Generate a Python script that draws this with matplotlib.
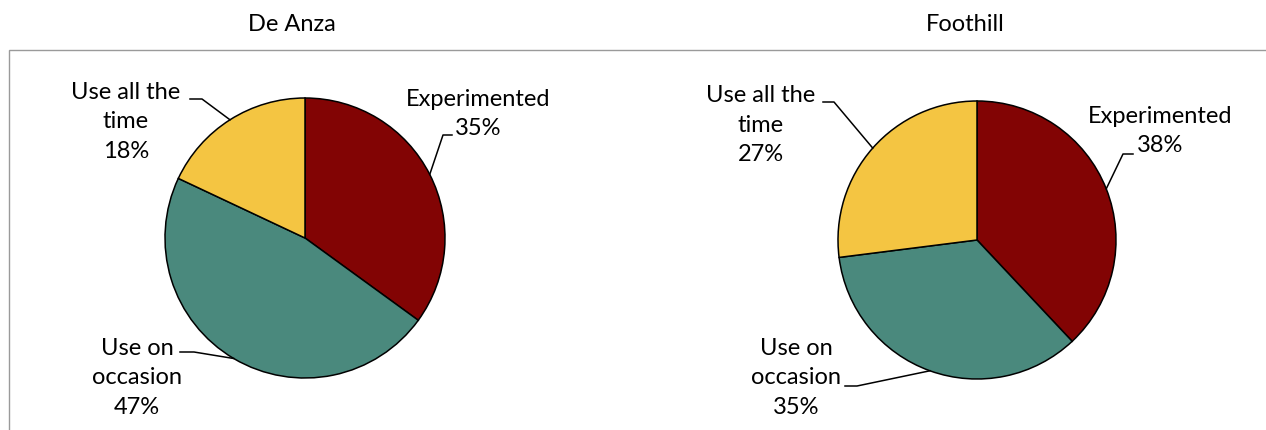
import numpy as np
import matplotlib
matplotlib.use("Agg")
import matplotlib.pyplot as plt
from matplotlib.patches import Rectangle

# Survey answers per campus
categories = ["Experimented", "Use on occasion", "Use all the time"]
label_text = ["Experimented", "Use on\noccasion", "Use all the\ntime"]
de_anza = [35, 47, 18]
foothill = [38, 35, 27]
colors = ["#820404", "#4A897D", "#F4C542"]

W, H = 1266, 431
plt.rcParams["font.family"] = ["Lato", "DejaVu Sans"]
FS = 17

fig = plt.figure(figsize=(W / 100, H / 100), dpi=100)
ax = fig.add_axes([0, 0, 1, 1])


def py(y):
    """Convert a top-down pixel row to the axes' upward coordinate."""
    return H - y


# Light gray chart border (left and top edges visible)
ax.add_patch(Rectangle((9, -20), W + 50, py(51) + 20, fill=False,
                       edgecolor="#9a9a9a", linewidth=1.0, zorder=0))

pies = [
    dict(title="De Anza", values=de_anza, center=(305, py(239)), radius=140,
         title_pos=(292, py(24)),
         labels=[((478, py(114)), [(452, 136), (443, 136)]),
                 ((137, py(378)), [(180, 353), (194, 353)]),
                 ((126, py(122)), [(190, 100), (202, 100)])]),
    dict(title="Foothill", values=foothill, center=(977, py(241)), radius=139,
         title_pos=(965, py(24)),
         labels=[((1160, py(131)), [(1133, 155), (1123, 155)]),
                 ((796, py(378)), [(845, 387), (857, 387)]),
                 ((761, py(125)), [(823, 103), (834, 103)])]),
]

for p in pies:
    vals = p["values"]
    wedges, _ = ax.pie(vals, colors=colors, startangle=90, counterclock=False,
                       center=p["center"], radius=p["radius"], frame=True,
                       wedgeprops=dict(edgecolor="black", linewidth=1.1))
    ax.text(*p["title_pos"], p["title"], ha="center", va="center",
            fontsize=FS, color="black")
    for w, v, txt, (tpos, leader) in zip(wedges, vals, label_text, p["labels"]):
        ax.text(*tpos, f"{txt}\n{v}%", ha="center", va="center",
                fontsize=FS, color="black", linespacing=1.52)
        mid = np.deg2rad((w.theta1 + w.theta2) / 2)
        cx, cy = p["center"]
        ex = cx + p["radius"] * np.cos(mid)
        ey = cy + p["radius"] * np.sin(mid)
        xs = [leader[0][0], leader[1][0], ex]
        ys = [py(leader[0][1]), py(leader[1][1]), ey]
        ax.plot(xs, ys, color="black", linewidth=1.1, zorder=5)

ax.set_xlim(0, W)
ax.set_ylim(0, H)
ax.set_aspect("equal")
ax.axis("off")

fig.savefig("out.png", dpi=100)
